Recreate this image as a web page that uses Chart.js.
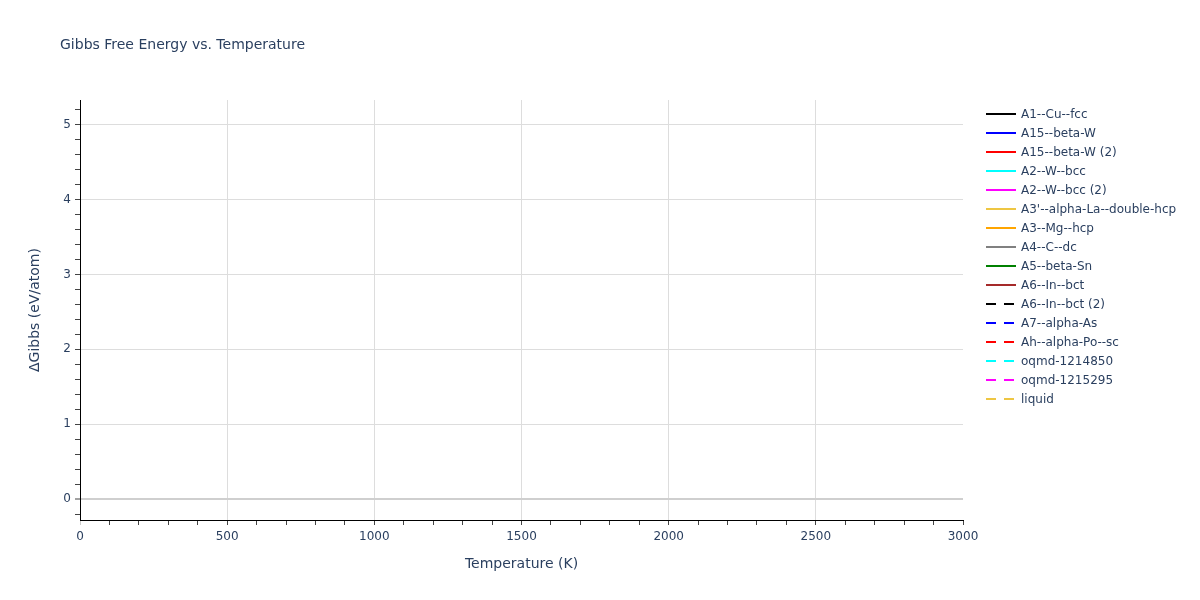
<!DOCTYPE html>
<html>
<head>
<meta charset="utf-8">
<script src="https://cdn.jsdelivr.net/npm/chart.js@4.4.1/dist/chart.umd.min.js"></script>
<style>
  html, body { margin: 0; padding: 0; background: #fff; }
  #wrap { width: 1200px; height: 600px; }
</style>
</head>
<body>
<div id="wrap"><canvas id="myChart" width="1200" height="600"></canvas></div>
<script>
// nothing is plotted in the reference: every trace is empty, only the legend shows
const temperatures = [];
const seriesNames = [
  "A1--Cu--fcc", "A15--beta-W", "A15--beta-W (2)", "A2--W--bcc", "A2--W--bcc (2)",
  "A3'--alpha-La--double-hcp", "A3--Mg--hcp", "A4--C--dc", "A5--beta-Sn", "A6--In--bct",
  "A6--In--bct (2)", "A7--alpha-As", "Ah--alpha-Po--sc", "oqmd-1214850", "oqmd-1215295", "liquid"
];
const seriesColors = [
  "#000000", "#0000ff", "#ff0000", "#00ffff", "#ff00ff",
  "#eec643", "#ffa500", "#808080", "#008000", "#a52a2a",
  "#000000", "#0000ff", "#ff0000", "#00ffff", "#ff00ff", "#eec643"
];
const seriesDashed = [
  false, false, false, false, false, false, false, false, false, false,
  true, true, true, true, true, true
];
const gibbsValues = seriesNames.map(function () { return []; });

const xTicks = [0, 500, 1000, 1500, 2000, 2500, 3000];
const yTicks = [0, 1, 2, 3, 4, 5];

const fontFamily = '"DejaVu Sans", Verdana, sans-serif';
const textColor = "#2a3f5f";

const datasets = seriesNames.map(function (name, i) {
  return {
    label: name,
    data: gibbsValues[i].map(function (v, j) { return { x: temperatures[j], y: v }; }),
    borderColor: seriesColors[i],
    backgroundColor: seriesColors[i],
    borderWidth: 2,
    borderDash: seriesDashed[i] ? [10, 8] : [],
    pointRadius: 0,
    fill: false
  };
});

function isWhole(v) {
  return Math.abs(v - Math.round(v)) < 1e-6;
}

// title and legend drawn by hand so they sit where plotly put them
const extrasPlugin = {
  id: "extras",
  afterDraw(chart) {
    const ctx = chart.ctx;
    ctx.save();
    ctx.fillStyle = textColor;
    ctx.font = "14px " + fontFamily;
    ctx.textBaseline = "middle";
    ctx.textAlign = "left";
    ctx.fillText("Gibbs Free Energy vs. Temperature", 60, 45);

    ctx.font = "12px " + fontFamily;
    chart.data.datasets.forEach(function (ds, i) {
      const y = 114 + i * 19;
      ctx.strokeStyle = ds.borderColor;
      ctx.lineWidth = 2;
      ctx.setLineDash(ds.borderDash);
      ctx.beginPath();
      ctx.moveTo(986, y);
      ctx.lineTo(1016, y);
      ctx.stroke();
      ctx.setLineDash([]);
      ctx.fillStyle = textColor;
      ctx.fillText(ds.label, 1021, y + 0.5);
    });
    ctx.restore();
  }
};

const config = {
  type: "line",
  data: { datasets },
  options: {
    responsive: false,
    animation: false,
    layout: { padding: { top: 100, right: 237, bottom: 0, left: 0 } },
    plugins: {
      legend: { display: false },
      title: { display: false },
      tooltip: { enabled: false }
    },
    scales: {
      x: {
        type: "linear",
        min: 0,
        max: 3000,
        afterFit: function (scale) { scale.height = 80; },
        ticks: {
          stepSize: 100,
          autoSkip: false,
          maxRotation: 0,
          padding: 5,
          color: textColor,
          font: { family: fontFamily, size: 12 },
          callback: function (v) { return xTicks.indexOf(v) >= 0 ? String(v) : ""; }
        },
        grid: {
          color: function (c) {
            const v = c.tick.value;
            return (xTicks.indexOf(v) > 0 && v < 3000) ? "#dddddd" : "rgba(0,0,0,0)";
          },
          lineWidth: 1,
          drawTicks: true,
          tickLength: 5,
          tickColor: function (c) { return c.tick.value === 0 ? "#cccccc" : "#444444"; }
        },
        border: { display: true, color: "#000000", width: 1 },
        title: {
          display: true,
          text: "Temperature (K)",
          color: textColor,
          font: { family: fontFamily, size: 14 },
          padding: { top: 0, bottom: 27 }
        }
      },
      y: {
        type: "linear",
        min: -0.28,
        max: 5.33,
        afterFit: function (scale) { scale.width = 80; },
        ticks: {
          stepSize: 0.2,
          includeBounds: false,
          autoSkip: false,
          padding: 4,
          color: textColor,
          font: { family: fontFamily, size: 12 },
          callback: function (v) {
            return isWhole(v) && yTicks.indexOf(Math.round(v)) >= 0 ? String(Math.round(v)) : "";
          }
        },
        grid: {
          color: function (c) {
            const v = c.tick.value;
            if (!isWhole(v)) return "rgba(0,0,0,0)";
            return Math.round(v) === 0 ? "#cfcfcf" : "#dddddd";
          },
          lineWidth: function (c) {
            return isWhole(c.tick.value) && Math.round(c.tick.value) === 0 ? 2 : 1;
          },
          drawTicks: true,
          tickLength: 5,
          tickColor: "#444444",
          tickWidth: 1
        },
        border: { display: true, color: "#000000", width: 1 },
        title: {
          display: true,
          text: "ΔGibbs (eV/atom)",
          color: textColor,
          font: { family: fontFamily, size: 14 },
          padding: { top: 27, bottom: 0 }
        }
      }
    }
  },
  plugins: [extrasPlugin]
};

const myChart = document.getElementById("myChart");
new Chart(myChart, config);
</script>
</body>
</html>
